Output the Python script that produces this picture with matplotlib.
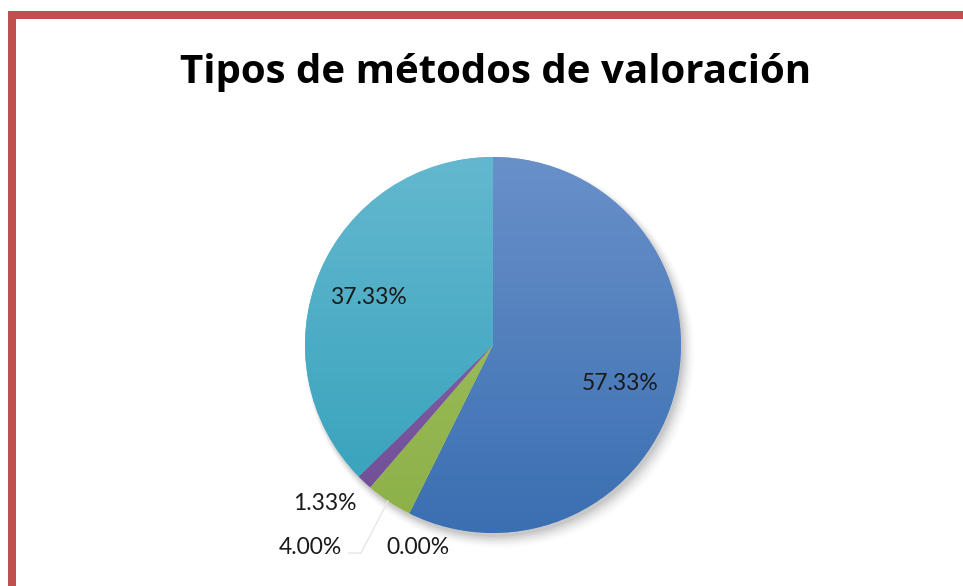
import numpy as np
import matplotlib
matplotlib.use("Agg")
import matplotlib.pyplot as plt
from matplotlib.patches import Rectangle, Circle
from matplotlib.colors import to_rgb

title = "Tipos de métodos de valoración"
categories = ["Método A", "Método B", "Método C", "Método D", "Método E"]
values = [57.33, 0.00, 4.00, 1.33, 37.33]
labels = ["57.33%", "0.00%", "4.00%", "1.33%", "37.33%"]
colors_top = ["#6990C9", "#C0504D", "#A6C465", "#8C6CB0", "#63B8CF"]
colors_bot = ["#3A6FB1", "#A03F3C", "#8CB048", "#6F4D96", "#34A0BB"]

W, H = 963, 586
fig = plt.figure(figsize=(W / 100, H / 100), dpi=100)
fig.patch.set_facecolor("white")

# pie center / radius in pixels
cx, cy, R = 493, 345, 188
ax = fig.add_axes([0, 0, 1, 1])

def set_lims():
    ax.set_xlim((0 - cx) / R, (W - cx) / R)
    ax.set_ylim((cy - H) / R, (cy - 0) / R)
    ax.set_aspect("auto")
    ax.axis("off")

set_lims()

# soft shadow
for i, a in enumerate(np.linspace(0.05, 0.012, 7)):
    ax.add_patch(Circle((0.012 + i * 0.004, -0.02 - i * 0.004), 1.0 + i * 0.006,
                        color="black", alpha=a, lw=0, zorder=1))
ax.add_patch(Circle((0, 0), 1.0, color="white", lw=0, zorder=1.5))

wedges, _ = ax.pie(values, startangle=90, counterclock=False, radius=1.0,
                   center=(0, 0), colors=colors_top, frame=True,
                   wedgeprops=dict(linewidth=0, zorder=2))
set_lims()

# vertical gradients clipped to each wedge
yy = np.linspace(1, 0, 256)[:, None]
for w, ct, cb in zip(wedges, colors_top, colors_bot):
    t = np.array(to_rgb(ct)); b = np.array(to_rgb(cb))
    img = (yy[..., None] * t + (1 - yy[..., None]) * b) * np.ones((1, 2, 1))
    im = ax.imshow(img, extent=(-1, 1, -1, 1), origin="upper", zorder=3,
                   interpolation="bilinear", aspect="auto")
    im.set_clip_path(w)
set_lims()

# data labels
font = "Lato"
pos = {
    "57.33%": ((620 - cx) / R, (cy - 383) / R),
    "37.33%": ((368 - cx) / R, (cy - 297) / R),
    "1.33%": ((325 - cx) / R, (cy - 503) / R),
    "4.00%": ((310 - cx) / R, (cy - 547) / R),
    "0.00%": ((418 - cx) / R, (cy - 547) / R),
}
for lab in labels:
    x, y = pos[lab]
    ax.text(x, y, lab, ha="center", va="center", fontsize=16.5,
            family=font, color="#1a1a1a", zorder=5)

# leader line for 4.00%
lx = [(388 - cx) / R, (361 - cx) / R, (349 - cx) / R]
ly = [(cy - 501) / R, (cy - 553) / R, (cy - 553) / R]
ax.plot(lx, ly, color="#e6e6e6", lw=1.0, zorder=4)

# title
fig.text(496 / W, 1 - 72 / H, title, ha="center", va="center",
         fontsize=29, fontweight="bold", family="Open Sans", color="black")

# red frame (top and left)
fig.add_artist(Rectangle((8 / W, 0), 8 / W, 1 - 11 / H, transform=fig.transFigure,
                         color="#C0504D", lw=0))
fig.add_artist(Rectangle((8 / W, 1 - 19 / H), 1, 8 / H, transform=fig.transFigure,
                         color="#C0504D", lw=0))

fig.savefig("out.png", dpi=100, facecolor="white")
